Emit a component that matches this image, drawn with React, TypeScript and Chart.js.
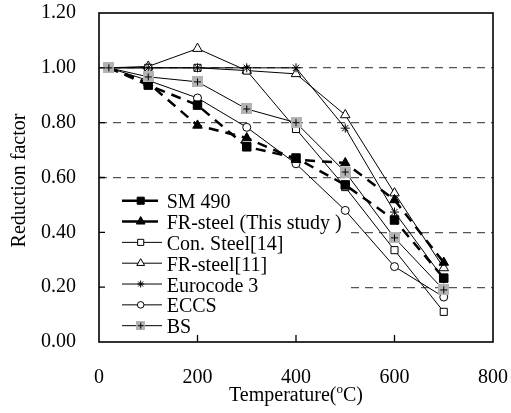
import React, { useEffect, useRef } from 'react';
import { Chart, registerables } from 'chart.js';
import { drawPoint } from 'chart.js/helpers';

Chart.register(...registerables);

const temperatures = [20, 100, 200, 300, 400, 500, 600, 700];
const sm490 = [1.0, 0.937, 0.864, 0.712, 0.671, 0.573, 0.445, 0.233];
const frThisStudy = [1.0, 0.945, 0.79, 0.744, 0.665, 0.653, 0.518, 0.29];
const conSteel = [1.0, 1.0, 1.0, 0.99, 0.777, 0.565, 0.335, 0.11];
const frSteel11 = [1.0, 1.005, 1.07, 0.99, 0.978, 0.828, 0.543, 0.27];
const eurocode3 = [1.0, 1.0, 1.0, 1.0, 1.0, 0.78, 0.474, 0.23];
const eccs = [1.0, 0.954, 0.89, 0.783, 0.65, 0.48, 0.275, 0.164];
const bs = [1.0, 0.967, 0.949, 0.85, 0.8, 0.62, 0.38, 0.19];

const seriesNames = ['SM 490', 'FR-steel (This study )', 'Con. Steel[14]', 'FR-steel[11]', 'Eurocode 3', 'ECCS', 'BS'];
const xTicks = [0, 200, 400, 600, 800];
const yTicks = [0, 0.2, 0.4, 0.6, 0.8, 1.0, 1.2];

const SERIF = "'Liberation Serif', 'Times New Roman', Times, serif";

function makeBSMarker(size: number, plus: number): HTMLCanvasElement {
  const c = document.createElement('canvas');
  c.width = size;
  c.height = size;
  const g = c.getContext('2d')!;
  g.fillStyle = '#b3b3b3';
  g.fillRect(0, 0, size, size);
  g.strokeStyle = '#000';
  g.lineWidth = 1;
  const m = size / 2;
  g.beginPath();
  g.moveTo(m - plus / 2, m);
  g.lineTo(m + plus / 2, m);
  g.moveTo(m, m - plus / 2);
  g.lineTo(m, m + plus / 2);
  g.stroke();
  return c;
}

export default function App() {
  const ref = useRef<HTMLCanvasElement | null>(null);

  useEffect(() => {
    if (!ref.current) return;
    const bsMarker = makeBSMarker(11, 7);
    const bsLegend = makeBSMarker(9, 6);

    const styles = [
      { data: sm490, pointStyle: 'rect', radius: 6, fill: '#000', dash: [10, 7], width: 2.5, order: 1, legendR: 5, legendLen: 36, lp: 'rect' as any },
      { data: frThisStudy, pointStyle: 'triangle', radius: 5.5, fill: '#000', dash: [10, 7], width: 2.5, order: 2, legendR: 5, legendLen: 36, lp: 'triangle' as any },
      { data: conSteel, pointStyle: 'rect', radius: 5, fill: '#fff', dash: [], width: 1, order: 4, legendR: 4.3, legendLen: 40, lp: 'rect' as any },
      { data: frSteel11, pointStyle: 'triangle', radius: 5.5, fill: '#fff', dash: [], width: 1, order: 5, legendR: 4.5, legendLen: 40, lp: 'triangle' as any },
      { data: eurocode3, pointStyle: 'star', radius: 4.5, fill: '#000', dash: [], width: 1, order: 3, legendR: 3.5, legendLen: 40, lp: 'star' as any },
      { data: eccs, pointStyle: 'circle', radius: 4, fill: '#fff', dash: [], width: 1, order: 6, legendR: 3.3, legendLen: 40, lp: 'circle' as any },
      { data: bs, pointStyle: bsMarker as any, radius: 5.5, fill: '#b3b3b3', dash: [], width: 1, order: 0, legendR: 4.5, legendLen: 40, lp: bsLegend as any },
    ];

    const datasets = styles.map((s, i) => ({
      label: seriesNames[i],
      data: temperatures.map((t, j) => ({ x: t, y: s.data[j] })),
      borderColor: '#000',
      backgroundColor: s.fill,
      borderWidth: s.width,
      borderDash: s.dash,
      pointStyle: s.pointStyle,
      pointRadius: s.radius,
      pointBackgroundColor: s.fill,
      pointBorderColor: '#000',
      pointBorderWidth: 1,
      tension: 0,
      fill: false,
      order: s.order,
    }));

    const custom = {
      id: 'custom',
      beforeDatasetsDraw(chart: any) {
        const { ctx, chartArea: a } = chart;
        ctx.save();
        ctx.fillStyle = '#fff';
        ctx.fillRect(a.left + 1, 188, 350 - a.left - 1, a.bottom - 188 - 1);
        ctx.restore();
      },
      afterDraw(chart: any) {
        const { ctx, chartArea: a, scales } = chart;
        ctx.save();
        // frame
        ctx.strokeStyle = '#000';
        ctx.lineWidth = 1.6;
        ctx.strokeRect(a.left, a.top, a.right - a.left, a.bottom - a.top);
        // inner ticks
        ctx.lineWidth = 1.3;
        ctx.beginPath();
        yTicks.forEach((v) => {
          if (v <= 0 || v >= 1.2) return;
          const y = scales.y.getPixelForValue(v);
          ctx.moveTo(a.left, y);
          ctx.lineTo(a.left + 6, y);
        });
        xTicks.forEach((v) => {
          if (v <= 0 || v >= 800) return;
          const x = scales.x.getPixelForValue(v);
          ctx.moveTo(x, a.bottom);
          ctx.lineTo(x, a.bottom - 7);
        });
        ctx.stroke();

        // legend
        const rowY0 = 200.7;
        const rowStep = 20.83;
        styles.forEach((s, i) => {
          const y = rowY0 + i * rowStep;
          const x0 = 122;
          ctx.strokeStyle = '#000';
          ctx.setLineDash([]);
          ctx.lineWidth = s.width;
          ctx.beginPath();
          ctx.moveTo(x0, y);
          ctx.lineTo(x0 + s.legendLen, y);
          ctx.stroke();
          ctx.fillStyle = s.fill;
          ctx.strokeStyle = '#000';
          ctx.lineWidth = 1;
          drawPoint(ctx, { pointStyle: s.lp, radius: s.legendR, rotation: 0, borderWidth: 1 } as any, 140.7, y);
          ctx.fillStyle = '#000';
          ctx.font = `20px ${SERIF}`;
          ctx.textAlign = 'left';
          ctx.textBaseline = 'alphabetic';
          ctx.fillText(seriesNames[i], 166.7, y + 7.5);
        });

        // y title
        ctx.save();
        ctx.translate(25, (a.top + a.bottom) / 2 + 3);
        ctx.rotate(-Math.PI / 2);
        ctx.font = `20px ${SERIF}`;
        ctx.textAlign = 'center';
        ctx.textBaseline = 'alphabetic';
        ctx.fillStyle = '#000';
        ctx.fillText('Reduction factor', 0, 0);
        ctx.restore();

        // x title with superscript
        const big = `20px ${SERIF}`;
        const small = `13px ${SERIF}`;
        ctx.font = big;
        const p1 = 'Temperature(';
        const p3 = 'C)';
        const w1 = ctx.measureText(p1).width;
        const w3 = ctx.measureText(p3).width;
        ctx.font = small;
        const w2 = ctx.measureText('o').width;
        const total = w1 + w2 + w3;
        const cx = (a.left + a.right) / 2;
        let x = cx - total / 2;
        const base = 401;
        ctx.textAlign = 'left';
        ctx.textBaseline = 'alphabetic';
        ctx.fillStyle = '#000';
        ctx.font = big;
        ctx.fillText(p1, x, base);
        x += w1;
        ctx.font = small;
        ctx.fillText('o', x, base - 8);
        x += w2;
        ctx.font = big;
        ctx.fillText(p3, x, base);
        ctx.restore();
      },
    };

    const chart = new Chart(ref.current, {
      type: 'line',
      data: { datasets: datasets as any },
      options: {
        animation: false,
        responsive: false,
        maintainAspectRatio: false,
        layout: { padding: { top: 13, right: 18, left: 0, bottom: 0 } },
        plugins: { legend: { display: false }, tooltip: { enabled: false } },
        scales: {
          x: {
            type: 'linear',
            min: 0,
            max: 800,
            afterBuildTicks: (scale: any) => {
              scale.ticks = xTicks.map((v) => ({ value: v }));
            },
            afterFit: (scale: any) => {
              scale.height = 71;
              scale.paddingLeft = 0;
              scale.paddingRight = 0;
            },
            ticks: {
              font: { family: SERIF, size: 20 },
              color: '#000',
              padding: 24,
              maxRotation: 0,
              callback: (v: any) => String(v),
            },
            grid: { display: false, drawTicks: false },
            border: { display: false },
          },
          y: {
            type: 'linear',
            min: 0,
            max: 1.2,
            afterBuildTicks: (scale: any) => {
              scale.ticks = yTicks.map((v) => ({ value: v }));
            },
            afterFit: (scale: any) => {
              scale.width = 99;
              scale.paddingTop = 0;
              scale.paddingBottom = 0;
            },
            ticks: {
              font: { family: SERIF, size: 20 },
              color: '#000',
              padding: 23,
              callback: (v: any) => Number(v).toFixed(2),
            },
            grid: {
              drawTicks: false,
              lineWidth: 1.3,
              color: (c: any) => {
                const v = c.tick ? c.tick.value : 0;
                return v > 0.01 && v < 1.19 ? '#555' : 'rgba(0,0,0,0)';
              },
            },
            border: { display: false, dash: [8, 6] },
          },
        },
      },
      plugins: [custom],
    });
    return () => chart.destroy();
  }, []);

  return (
    <div style={{ position: 'absolute', left: 0, top: 0, width: 511, height: 413, background: '#fff' }}>
      <canvas ref={ref} width={511} height={413} style={{ display: 'block' }} />
    </div>
  );
}
